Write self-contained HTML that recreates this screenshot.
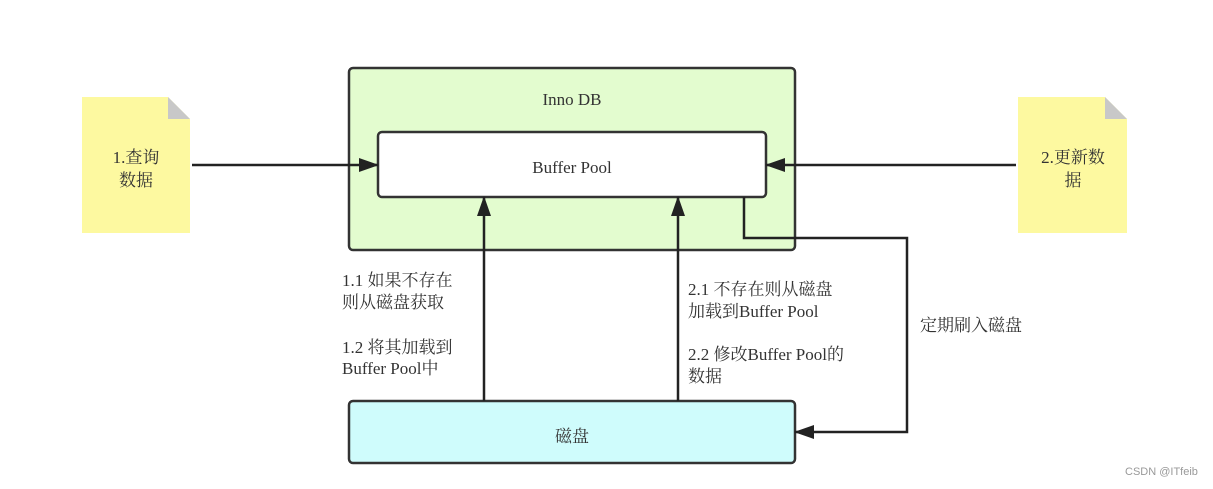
<!DOCTYPE html>
<html><head><meta charset="utf-8"><style>
body{margin:0;background:#fff;}
svg text{font-family:"Liberation Serif","Noto Serif CJK SC",serif;fill:#333;font-size:17px;}
</style></head><body>
<svg width="1213" height="484" viewBox="0 0 1213 484" xmlns="http://www.w3.org/2000/svg">
<defs>
<marker id="b" markerWidth="20" markerHeight="14" refX="19" refY="7" orient="auto" markerUnits="userSpaceOnUse"><path d="M0,0 L20,7 L0,14 Z" fill="#222"/></marker></defs>
<path d="M82,97 H168 L190,119 V233 H82 Z" fill="#fdf9a0"/>
<path d="M168,97 L190,119 H168 Z" fill="#c8c8c8"/>
<path d="M1018,97 H1105 L1127,119 V233 H1018 Z" fill="#fdf9a0"/>
<path d="M1105,97 L1127,119 H1105 Z" fill="#c8c8c8"/>
<text x="136" y="163" text-anchor="middle">1.查询</text>
<text x="136" y="186" text-anchor="middle">数据</text>
<text x="1073" y="163" text-anchor="middle">2.更新数</text>
<text x="1073" y="186" text-anchor="middle">据</text>
<rect x="349" y="68" width="446" height="182" rx="4" fill="#e3fccf" stroke="#333" stroke-width="2.5"/>
<text x="572" y="105" text-anchor="middle">Inno DB</text>
<rect x="378" y="132" width="388" height="65" rx="4" fill="#fff" stroke="#333" stroke-width="2.5"/>
<text x="572" y="173" text-anchor="middle">Buffer Pool</text>
<rect x="349" y="401" width="446" height="62" rx="4" fill="#cffcfc" stroke="#333" stroke-width="2.5"/>
<text x="572" y="442" text-anchor="middle">磁盘</text>
<line x1="192" y1="165" x2="378" y2="165" stroke="#222" stroke-width="2.5" marker-end="url(#b)"/>
<line x1="1016" y1="165" x2="766" y2="165" stroke="#222" stroke-width="2.5" marker-end="url(#b)"/>
<line x1="484" y1="401" x2="484" y2="197" stroke="#222" stroke-width="2.5" marker-end="url(#b)"/>
<line x1="678" y1="401" x2="678" y2="197" stroke="#222" stroke-width="2.5" marker-end="url(#b)"/>
<polyline points="744,197 744,238 907,238 907,432 795,432" fill="none" stroke="#222" stroke-width="2.5" marker-end="url(#b)"/>
<text x="342" y="286">1.1 如果不存在</text>
<text x="342" y="308">则从磁盘获取</text>
<text x="342" y="353">1.2 将其加载到</text>
<text x="342" y="374">Buffer Pool中</text>
<text x="688" y="295">2.1 不存在则从磁盘</text>
<text x="688" y="317">加载到Buffer Pool</text>
<text x="688" y="360">2.2 修改Buffer Pool的</text>
<text x="688" y="382">数据</text>
<text x="920" y="331">定期刷入磁盘</text>
<text x="1125" y="475" style="font-family:'Liberation Sans',sans-serif;font-size:11px;fill:#999">CSDN @ITfeib</text>
</svg>
</body></html>
